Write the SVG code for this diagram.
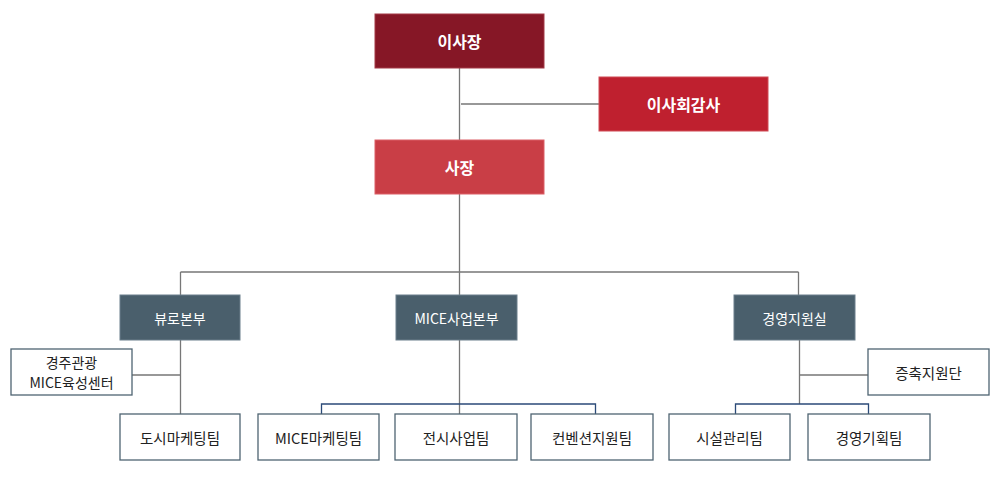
<svg xmlns="http://www.w3.org/2000/svg" width="1000" height="491" viewBox="0 0 1000 491">
<style>
text{font-family:"Noto Sans CJK KR","Noto Sans",sans-serif;text-anchor:middle;dominant-baseline:central}
.top{font-size:16px;font-weight:bold;fill:#fff}
.dept{font-size:14px;fill:#fff}
.team{font-size:14.5px;fill:#222}
.sm{font-size:14px}
.dk{fill:#4a5f6c;stroke:#6b7f8b;stroke-width:1}
.wt{fill:#fff;stroke:#4f6472;stroke-width:1.3}
.ln{stroke:#777;stroke-width:1.3;fill:none}
.bl{stroke:#2b4a78;stroke-width:1.3;fill:none}
</style>
<rect width="1000" height="491" fill="#fff"/>
<g id="connectors">
<path class="ln" d="M459.5 68V140M461 104H599M459.5 194V272M180.5 272H798.5M180.5 272V295M459.5 272V295M798.5 272V295"/>
<path class="ln" d="M180.5 340V414M132 375H180.5"/>
<path class="ln" d="M459.5 340V414"/>
<path class="bl" d="M321.5 414V404H595.5V414"/>
<path class="ln" d="M799.5 340V404M799.5 375H868"/>
<path class="bl" d="M735.5 414V404H868.5V414"/>
</g>
<g id="n-chairman"><rect x="375" y="14" width="169" height="54" fill="#861726" stroke="#a33a47"/><text class="top" x="459.5" y="41">이사장</text></g>
<g id="n-audit"><rect x="599" y="77" width="169" height="54" fill="#bf202f" stroke="#d04a55"/><text class="top" x="683.5" y="104">이사회감사</text></g>
<g id="n-president"><rect x="375" y="140" width="169" height="54" fill="#c93e46" stroke="#dc5f66"/><text class="top" x="459.5" y="167">사장</text></g>
<g id="n-bureau"><rect class="dk" x="120" y="295" width="120" height="45"/><text class="dept" x="180" y="317.5">뷰로본부</text></g>
<g id="n-mice"><rect class="dk" x="396" y="295" width="121" height="45"/><text class="dept" x="456.5" y="317.5">MICE사업본부</text></g>
<g id="n-mgmt"><rect class="dk" x="734" y="295" width="121" height="45"/><text class="dept" x="794.5" y="317.5">경영지원실</text></g>
<g id="n-gyeongju"><rect class="wt" x="11" y="349" width="121" height="46"/><text class="team sm" x="71.5" y="362">경주관광</text><text class="team sm" x="71.5" y="382">MICE육성센터</text></g>
<g id="n-citymkt"><rect class="wt" x="120" y="414" width="120" height="46"/><text class="team" x="180" y="437">도시마케팅팀</text></g>
<g id="n-micemkt"><rect class="wt" x="258" y="414" width="121" height="46"/><text class="team" x="318.5" y="437">MICE마케팅팀</text></g>
<g id="n-exhibit"><rect class="wt" x="395" y="414" width="122" height="46"/><text class="team" x="456" y="437">전시사업팀</text></g>
<g id="n-conv"><rect class="wt" x="531" y="414" width="122" height="46"/><text class="team" x="592" y="437">컨벤션지원팀</text></g>
<g id="n-expand"><rect class="wt" x="868" y="349" width="121" height="46"/><text class="team" x="928.5" y="372">증축지원단</text></g>
<g id="n-facility"><rect class="wt" x="669" y="414" width="121" height="46"/><text class="team" x="729.5" y="437">시설관리팀</text></g>
<g id="n-plan"><rect class="wt" x="808" y="414" width="122" height="46"/><text class="team" x="869" y="437">경영기획팀</text></g>
</svg>
